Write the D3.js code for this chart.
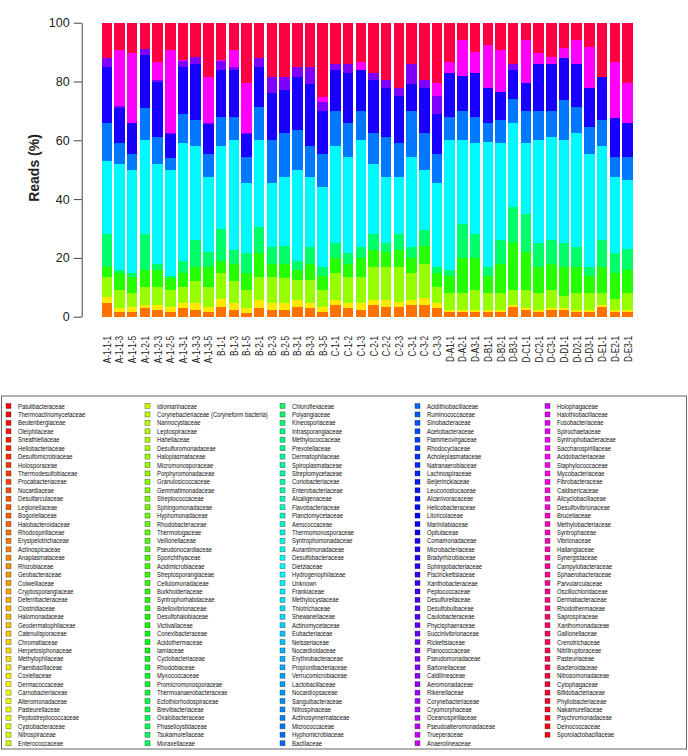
<!DOCTYPE html>
<html><head><meta charset="utf-8">
<script src="https://cdn.jsdelivr.net/npm/d3@7/dist/d3.min.js"></script>
<style>body{margin:0;background:#fff}svg{display:block;font-family:"Liberation Sans",Arial,Helvetica,sans-serif}</style>
</head><body>
<svg id="chart" width="688" height="756"></svg>
<script>
const samples = ["A-1-1-1","A-1-1-3","A-1-1-5","A-1-2-1","A-1-2-3","A-1-2-5","A-1-3-1","A-1-3-3","A-1-3-5","B-1-1","B-1-3","B-1-5","B-2-1","B-2-3","B-2-5","B-3-1","B-3-3","B-3-5","C-1-1","C-1-2","C-1-3","C-2-1","C-2-2","C-2-3","C-3-1","C-3-2","C-3-3","D-A1-1","D-A2-1","D-A3-1","D-B1-1","D-B2-1","D-B3-1","D-C1-1","D-C2-1","D-C3-1","D-D1-1","D-D2-1","D-D3-1","D-E1-1","D-E2-1","D-E3-1"];

const families = [
"Patulibacteraceae","Thermoactinomycetaceae","Beutenbergiaceae","Oleiphilaceae","Sneathiellaceae","Heliobacteriaceae","Desulfomicrobiaceae","Holosporaceae","Thermodesulfobiaceae","Procabacteriaceae","Nocardiaceae","Desulfarculaceae","Legionellaceae","Bogoriellaceae","Halobacteroidaceae","Rhodospirillaceae","Erysipelotrichaceae","Actinospicaceae","Anaplasmataceae","Rhizobiaceae","Geobacteraceae","Colwelliaceae","Cryptosporangiaceae","Deferribacteraceae","Clostridiaceae","Halomonadaceae","Geodermatophilaceae","Catenulisporaceae","Chromatiaceae","Herpetosiphonaceae","Methylophilaceae","Paenibacillaceae","Coxiellaceae","Dermacoccaceae","Carnobacteriaceae","Alteromonadaceae","Pasteurellaceae","Peptostreptococcaceae","Cystobacteraceae","Nitrospiraceae","Enterococcaceae",
"Idiomarinaceae","Corynebacteriaceae (Coryneform bacteria)","Nannocystaceae","Leptospiraceae","Hahellaceae","Desulfuromonadaceae","Haloplasmataceae","Micromonosporaceae","Porphyromonadaceae","Granulosicoccaceae","Gemmatimonadaceae","Streptococcaceae","Sphingomonadaceae","Hyphomonadaceae","Rhodobacteraceae","Thermotogaceae","Veillonellaceae","Pseudonocardiaceae","Sporichthyaceae","Acidimicrobiaceae","Streptosporangiaceae","Cellulomonadaceae","Burkholderiaceae","Syntrophorhabdaceae","Bdellovibrionaceae","Desulfohalobiaceae","Victivallaceae","Conexibacteraceae","Acidothermaceae","Iamiaceae","Cyclobacteriaceae","Rhodobiaceae","Myxococcaceae","Promicromonosporaceae","Thermoanaerobacteraceae","Ectothiorhodospiraceae","Brevibacteriaceae","Oxalobacteraceae","Phaselicystidaceae","Tsukamurellaceae","Moraxellaceae",
"Chloroflexaceae","Polyangiaceae","Kineosporiaceae","Intrasporangiaceae","Methylococcaceae","Prevotellaceae","Dermatophilaceae","Spiroplasmataceae","Streptomycetaceae","Coriobacteriaceae","Enterobacteriaceae","Alcaligenaceae","Flavobacteriaceae","Planctomycetaceae","Aerococcaceae","Thermomonosporaceae","Syntrophomonadaceae","Aurantimonadaceae","Desulfobacteraceae","Dietziaceae","Hydrogenophilaceae","Unknown","Frankiaceae","Methylocystaceae","Thiotrichaceae","Shewanellaceae","Actinomycetaceae","Eubacteriaceae","Neisseriaceae","Nocardioidaceae","Erythrobacteraceae","Propionibacteriaceae","Verrucomicrobiaceae","Lactobacillaceae","Nocardiopsaceae","Sanguibacteraceae","Nitrospinaceae","Actinosynnemataceae","Micrococcaceae","Hyphomicrobiaceae","Bacillaceae",
"Acidithiobacillaceae","Ruminococcaceae","Sinobacteraceae","Acetobacteraceae","Flammeovirgaceae","Rhodocyclaceae","Acholeplasmataceae","Natranaerobiaceae","Lachnospiraceae","Beijerinckiaceae","Leuconostocaceae","Alcanivoracaceae","Helicobacteraceae","Litoricolaceae","Marinilabiaceae","Opitutaceae","Comamonadaceae","Microbacteriaceae","Bradyrhizobiaceae","Sphingobacteriaceae","Piscirickettsiaceae","Xanthobacteraceae","Peptococcaceae","Desulfurellaceae","Desulfobulbaceae","Caulobacteraceae","Phycisphaeraceae","Succinivibrionaceae","Rickettsiaceae","Planococcaceae","Pseudomonadaceae","Bartonellaceae","Caldilineaceae","Aeromonadaceae","Rikenellaceae","Corynebacteriaceae","Cryomorphaceae","Oceanospirillaceae","Pseudoalteromonadaceae","Trueperaceae","Anaerolineaceae",
"Holophagaceae","Halothiobacillaceae","Fusobacteriaceae","Spirochaetaceae","Syntrophobacteraceae","Saccharospirillaceae","Acidobacteriaceae","Staphylococcaceae","Mycobacteriaceae","Fibrobacteraceae","Caldisericaceae","Alicyclobacillaceae","Desulfovibrionaceae","Brucellaceae","Methylobacteriaceae","Syntrophaceae","Vibrionaceae","Haliangiaceae","Synergistaceae","Campylobacteraceae","Sphaerobacteraceae","Parvularculaceae","Oscillochloridaceae","Dermabacteraceae","Rhodothermaceae","Saprospiraceae","Xanthomonadaceae","Gallionellaceae","Crenotrichaceae","Nitriliruptoraceae","Pasteuriaceae","Bacteroidaceae","Nitrosomonadaceae","Cytophagaceae","Bifidobacteriaceae","Phyllobacteriaceae","Nakamurellaceae","Psychromonadaceae","Deinococcaceae","Sporolactobacillaceae"];

// Reads (%) per sample for the families visible in the bars (all others ~0)
const rhodospirillaceae = [4.5,1.7,1.7,2.8,2.3,1.7,2.8,2.3,1.7,3.4,2.3,1.1,2.8,2.3,2.3,3.4,2.8,1.7,4,2.8,2.3,4,3.4,3.4,4,4,2.8,1.7,1.7,1.7,1.7,1.7,3.4,2.3,1.7,2.3,2.3,1.7,1.7,3.4,1.7,1.7];
const paenibacillaceae = [2.3,1.3,1.7,1.2,1.7,1.7,1.7,2.2,1.7,2.6,2.2,1.7,2.9,2.2,2.2,2.3,1.7,1.7,1.7,1.7,2.2,1.7,2.3,1.7,1.7,2.2,1.7,0.6,0.6,0.6,0.6,0.6,0.6,0.5,0.6,0.5,0.5,0.6,0.6,0.6,0.6,0.6];
const micromonosporaceae = [6.8,6,4.6,6,6,5.6,5.5,7.5,6.6,8.7,7.5,6.2,7.9,9.1,8.5,6.8,8,5.6,9,9.1,9.1,11.3,11.3,11.9,9,11.8,5.5,5.7,5.7,6.7,5.7,5.7,5,6.2,5.7,6.2,4.2,5.7,5.7,4,3.7,5.7];
const burkholderiaceae = [3.4,5.7,5.6,6,6,4,5,5,7,4.3,6,6,7.9,4.4,5,3.5,5.5,5,5.3,4.4,6.4,5.7,5,5.7,5.3,6,4.7,6,12,11,6,10,16,13,9,9,10,9,6,9,9,8];
const chloroflexaceae = [11,1.3,1.4,12,2,1,4,9,5,11,4.7,6.5,9.1,5.8,6,3,5.8,3,5,3.5,3.8,5.3,3,5.3,3.8,5.5,2.3,2,11.7,8,3,8,12.4,13,8,8,8,6.8,3,9,6.5,7];
const unknown = [25,36,35,32,34,36,40,32,25.6,28,37.3,23.9,29.4,21.6,23.6,31,23.8,27,33,32.9,36.2,24,22.6,19.6,30.6,20.5,28.4,44,28.3,31,42.5,33,28.6,24,35,35,35,38.6,38.5,32,26.1,23.5];
const micrococcaceae = [13,7,5.5,11,9,4,10,9,7.9,10,8,9,11.4,14.6,14.8,13.5,10.4,11.5,12,11.4,10,10.4,13.4,11.4,15.6,12.4,10.1,8,10,9,6.3,8,8,11,10,9,13.7,9,9.1,9,6.8,7.9];
const comamonadaceae = [19,12,10.3,18,19,8,16,19,10,16,16,7.6,13.6,16,14.6,18.1,21,14.5,14,17.2,14,18.1,16.7,16,9,15.3,13.5,15,12,15,11.9,9.5,10,9.4,16,16,14.3,14.6,13.1,14.6,13.1,11.4];
const pseudomonadaceae = [3,0.5,0.2,2,0.5,0.4,2,2.4,0.3,3,1,0.4,3,5.6,4.6,3.4,6,3,2,3,0,2.3,2.8,2.7,7,2.8,6,0,0,0,0,0,2,0,0,0,0,0,0,0,0,0];
const acidobacteriaceae = [0,19.2,23.6,0,6.2,28.3,0.3,0,15.8,0.3,5.7,17,0,0,0,0,0,1.8,0,0,2.7,0,0,0,0,0,4.4,3.7,12,7,14.7,14.2,0,14.6,3.6,2.4,3.3,8,14.1,0,19.2,13.6];
const bacteroidaceae = [12,9.3,10.4,9,13.3,9.3,12.7,11.6,18.4,12.7,9.3,20.6,12,18.4,18.4,15,15,25.2,14,14,13.3,17.2,19.5,22.3,14,19.5,20.6,13.3,6,10,7.6,9.3,14,6,10.4,11.6,8.7,6,8.2,18.4,13.3,20.6];

const yTicks = [0,20,40,60,80,100];
const yLabel = "Reads (%)";

const abundance = {
  "Rhodospirillaceae": rhodospirillaceae,
  "Paenibacillaceae": paenibacillaceae,
  "Micromonosporaceae": micromonosporaceae,
  "Burkholderiaceae": burkholderiaceae,
  "Chloroflexaceae": chloroflexaceae,
  "Unknown": unknown,
  "Micrococcaceae": micrococcaceae,
  "Comamonadaceae": comamonadaceae,
  "Pseudomonadaceae": pseudomonadaceae,
  "Acidobacteriaceae": acidobacteriaceae,
  "Bacteroidaceae": bacteroidaceae
};

const rows = samples.map((s, j) => {
  const o = {sample: s};
  families.forEach(f => { o[f] = abundance[f] ? abundance[f][j] : 0; });
  return o;
});

const svg = d3.select("#chart");
const color = d3.scaleOrdinal().domain(families)
  .range(families.map((f, i) => d3.hsl(i / families.length * 360, 1, 0.5).formatHex()));

const x = d3.scaleBand().domain(samples).range([101.5, 632.8]).paddingInner(0.2 / 1.2).paddingOuter(0);
const y = d3.scaleLinear().domain([0, 100]).range([316.7, 22.7]);

const series = d3.stack().keys(families)(rows);

svg.append("g").selectAll("g").data(series).join("g")
  .attr("fill", d => color(d.key))
  .selectAll("rect").data(d => d.filter(p => p[1] - p[0] > 0)).join("rect")
  .attr("x", d => x(d.data.sample))
  .attr("width", x.bandwidth())
  .attr("y", d => y(d[1]))
  .attr("height", d => y(d[0]) - y(d[1]))
  .attr("shape-rendering", "crispEdges");

// y axis
const yAxis = svg.append("g").attr("transform", "translate(81.7,0)")
  .call(d3.axisLeft(y).tickValues(yTicks).tickSize(8).tickSizeOuter(0).tickPadding(4));
yAxis.select(".domain").attr("stroke", "#444");
yAxis.selectAll(".tick line").attr("stroke", "#444");
yAxis.selectAll(".tick text").attr("font-size", "12.5px").attr("fill", "#222")
  .attr("font-family", "'Liberation Sans',Arial,sans-serif");

svg.append("text")
  .attr("transform", "translate(34,168) rotate(-90)")
  .attr("text-anchor", "middle").attr("dominant-baseline", "central")
  .attr("font-size", "14px").attr("font-weight", "bold").attr("fill", "#222")
  .text(yLabel);

// x labels (vertical)
svg.append("g").selectAll("text").data(samples).join("text")
  .attr("transform", d => `translate(${x(d) + x.bandwidth() / 2},336) rotate(-90)`)
  .attr("text-anchor", "end").attr("dominant-baseline", "central")
  .attr("font-size", "10.5px").attr("fill", "#222")
  .text(d => d)
  .each(function() {
    const len = this.getComputedTextLength();
    d3.select(this).attr("textLength", len * 0.78).attr("lengthAdjust", "spacingAndGlyphs");
  });

// legend
const lg = svg.append("g");
lg.append("rect").attr("x", 1.5).attr("y", 396).attr("width", 685).attr("height", 353)
  .attr("fill", "none").attr("stroke", "#666").attr("stroke-width", 1);
const perCol = 41;
const swatchX = [6, 145, 280, 415, 545];
const item = lg.selectAll("g.item").data(families).join("g").attr("class", "item")
  .attr("transform", (d, i) => `translate(${swatchX[Math.floor(i / perCol)]},${406 + (i % perCol) * 8.43})`);
item.append("rect").attr("x", 0).attr("y", -2.5).attr("width", 5).attr("height", 5)
  .attr("fill", d => color(d)).attr("stroke", "rgba(0,0,0,0.45)").attr("stroke-width", 0.7);
item.append("text").attr("x", 12).attr("y", 0).attr("dominant-baseline", "central")
  .attr("font-size", "6.8px").attr("fill", "#111").text(d => d)
  .each(function() {
    const len = this.getComputedTextLength();
    d3.select(this).attr("textLength", len * 0.86).attr("lengthAdjust", "spacingAndGlyphs");
  });
</script>
</body></html>
